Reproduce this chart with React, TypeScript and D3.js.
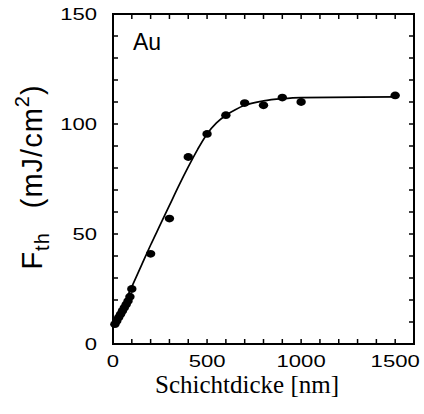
import React from "react";
import * as d3 from "d3";

// Measured data points
const thicknessNm = [10, 20, 30, 40, 50, 60, 70, 80, 90, 100, 200, 300, 400, 500, 600, 700, 800, 900, 1000, 1500];
const fluence = [9, 10.5, 12, 13.5, 15, 16.5, 18, 19.5, 21.5, 25, 41, 57, 85, 95.5, 104, 109.5, 108.5, 112, 110, 113];

// Fitted curve
const fitX = [0, 50, 100, 150, 200, 250, 300, 350, 400, 450, 500, 550, 600, 650, 700, 800, 900, 1000, 1500];
const fitY = [8, 17, 26, 35.5, 45, 54, 63, 72, 80.5, 88.5, 95.5, 100.5, 104, 106.5, 108.5, 110.5, 111.5, 112, 112.3];

const xTicksMajor = [0, 500, 1000, 1500];
const yTicksMajor = [0, 50, 100, 150];

const W = 424, H = 414;
const L = 113, R = 414, T = 14, B = 344;

export default function App() {
  const x = d3.scaleLinear().domain([0, 1600]).range([L, R]);
  const y = d3.scaleLinear().domain([0, 150]).range([B, T]);
  const xMinor = d3.range(0, 1601, 100);
  const yMinor = d3.range(0, 151, 10);
  const line = d3.line<number>().x((_, i) => x(fitX[i])).y((d) => y(d)).curve(d3.curveMonotoneX);
  const tk = 5;
  const sx = 1.3;
  return (
    <svg width={W} height={H} style={{ position: "absolute", left: 0, top: 0, background: "#fff" }}>
      <rect x={0} y={0} width={W} height={H} fill="#fff" />
      <g stroke="#000" strokeWidth={1.5}>
        {xMinor.map((v) => (
          <g key={"x" + v}>
            <line x1={x(v)} x2={x(v)} y1={B} y2={B - tk} />
            <line x1={x(v)} x2={x(v)} y1={T} y2={T + tk} />
          </g>
        ))}
        {yMinor.map((v) => (
          <g key={"y" + v}>
            <line x1={L} x2={L + tk} y1={y(v)} y2={y(v)} />
            <line x1={R} x2={R - tk} y1={y(v)} y2={y(v)} />
          </g>
        ))}
      </g>
      <rect x={L} y={T} width={R - L} height={B - T} fill="none" stroke="#000" strokeWidth={2} />
      <path d={line(fitY) || ""} fill="none" stroke="#000" strokeWidth={1.7} />
      {thicknessNm.map((d, i) => (
        <ellipse key={i} cx={x(d)} cy={y(fluence[i])} rx={4.7} ry={3.9} fill="#000" />
      ))}
      <g fontFamily="'Liberation Sans', Arial, sans-serif" fontSize={17} fill="#000">
        {xTicksMajor.map((v) => (
          <text key={"xl" + v} transform={`translate(${x(v)},${367}) scale(${sx},1)`} textAnchor="middle">{v}</text>
        ))}
        {yTicksMajor.map((v) => (
          <text key={"yl" + v} transform={`translate(${97},${y(v) + 6}) scale(${sx},1)`} textAnchor="end">{v}</text>
        ))}
      </g>
      <text x={133} y={50} fontFamily="'Liberation Sans', Arial, sans-serif" fontSize={23}>Au</text>
      <text x={247} y={393} textAnchor="middle" style={{ fontFamily: "'Liberation Serif', 'Times New Roman', 'DejaVu Serif', serif" }} fontSize={25}>Schichtdicke [nm]</text>
      <g transform="translate(42,177) rotate(-90)">
        <text textAnchor="middle" fontFamily="'Liberation Sans', Arial, sans-serif" fontSize={29} letterSpacing={1}>
          <tspan>F</tspan>
          <tspan fontSize={20} dy={7}>th</tspan>
          <tspan dy={-7} dx={24}>(mJ/cm</tspan>
          <tspan fontSize={20} dy={-13}>2</tspan>
          <tspan dy={13}>)</tspan>
        </text>
      </g>
    </svg>
  );
}
